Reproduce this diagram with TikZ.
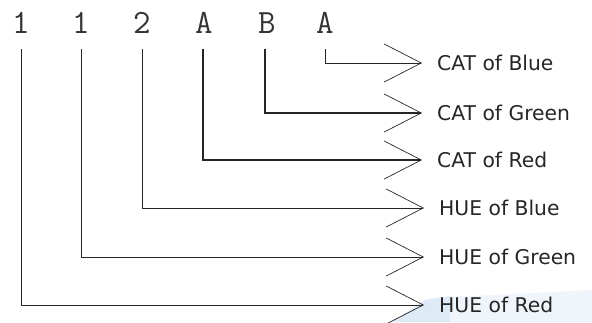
\documentclass[tikz,border=0pt]{standalone}
\usepackage{fontspec}
\setmainfont{DejaVu Sans}
\usetikzlibrary{arrows.meta}
\definecolor{swoosh}{RGB}{222,234,246}
\definecolor{swooshlight}{RGB}{240,245,251}
\tikzset{
  x=1pt, y=-1pt,
  topchar/.style={font=\ttfamily\fontsize{34}{34}\selectfont, inner sep=0pt, anchor=center, text=black!80},
  outlabel/.style={font=\fontsize{20.3}{21}\selectfont, inner sep=0pt, anchor=west, text=black!85},
  conn/.style={draw=black!85, shorten <=15pt, shorten >=15pt,
    -{Straight Barb[length=37pt, width=38pt, line width=0.7pt]}},
  thinline/.style={line width=1pt},
  midline/.style={line width=2pt},
  boldline/.style={line width=2.8pt},
}
\begin{document}
\begin{tikzpicture}
\useasboundingbox (0,0) rectangle (592,322);
% faint background swoosh
\fill[swooshlight] (392,322) -- (430,298) -- (592,290) -- (592,322) -- cycle;
\fill[swoosh] (392,322) -- (425,300) -- (450,296) -- (450,322) -- cycle;
% top characters
\node[topchar] (t1) at (21,23) {1};
\node[topchar] (t2) at (81,23) {1};
\node[topchar] (t3) at (142,23) {2};
\node[topchar] (t4) at (204,23) {A};
\node[topchar] (t5) at (267,23) {B};
\node[topchar] (t6) at (325,23) {A};
% output labels
\node[outlabel] (l1) at (437,63) {CAT of Blue};
\node[outlabel] (l2) at (437,113) {CAT of Green};
\node[outlabel] (l3) at (437,160) {CAT of Red};
\node[outlabel] (l4) at (439,208) {HUE of Blue};
\node[outlabel] (l5) at (439,257) {HUE of Green};
\node[outlabel] (l6) at (439,305) {HUE of Red};
% connectors
\draw[conn, thinline] (t6.south) |- (l1.west);
\draw[conn, boldline] ([xshift=-2pt]t5.south) |- (l2.west);
\draw[conn, midline] ([xshift=-1pt]t4.south) |- (l3.west);
\draw[conn, thinline] (t3.south) |- (l4.west);
\draw[conn, thinline] (t2.south) |- (l5.west);
\draw[conn, thinline] (t1.south) |- (l6.west);
\end{tikzpicture}
\end{document}
